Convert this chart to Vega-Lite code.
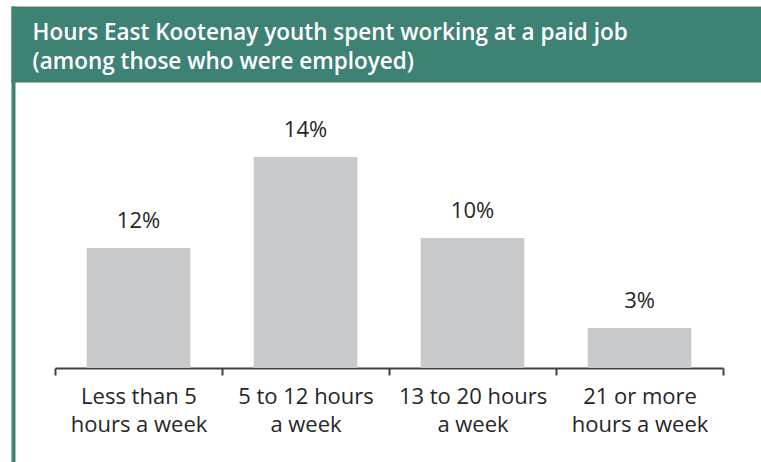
{
  "$schema": "https://vega.github.io/schema/vega-lite/v6.json",
  "padding": {"left": 11, "top": 6, "right": 0, "bottom": 0},
  "background": "white",
  "width": 750,
  "height": 456,
  "config": {"view": {"stroke": null, "fill": "white"}, "font": "Open Sans"},
  "data": {
    "values": [
      {"hours": "Less than 5 hours a week", "percent": 12, "bar_height": 7.96, "label": "12%"},
      {"hours": "5 to 12 hours a week", "percent": 14, "bar_height": 14, "label": "14%"},
      {"hours": "13 to 20 hours a week", "percent": 10, "bar_height": 8.63, "label": "10%"},
      {"hours": "21 or more hours a week", "percent": 3, "bar_height": 2.65, "label": "3%"}
    ]
  },
  "layer": [
    {
      "encoding": {
        "x": {
          "field": "hours",
          "type": "nominal",
          "sort": null,
          "scale": {"paddingInner": 0, "paddingOuter": 0, "range": [44, 712]},
          "axis": {
            "orient": "bottom",
            "offset": -94,
            "title": null,
            "domainColor": "#404040",
            "domainWidth": 2,
            "tickBand": "extent",
            "tickColor": "#404040",
            "tickWidth": 2,
            "tickSize": 7,
            "labelAngle": 0,
            "labelFont": "Open Sans",
            "labelFontSize": 22,
            "labelColor": "#262626",
            "labelPadding": 11,
            "labelLineHeight": 28,
            "labelLimit": 0,
            "labelExpr": "indexof(datum.label, ' to ') > 0 ? split(replace(datum.label, ' a week', '|a week'), '|') : split(replace(datum.label, ' hours', '|hours'), '|')"
          }
        },
        "y": {
          "field": "bar_height",
          "type": "quantitative",
          "scale": {"domain": [-6.24, 24.02], "nice": false},
          "axis": {
            "orient": "left",
            "offset": -2,
            "title": null,
            "domain": true,
            "domainColor": "#3e8274",
            "domainWidth": 4,
            "ticks": false,
            "labels": false,
            "grid": false
          }
        }
      },
      "layer": [
        {"mark": {"type": "bar", "width": {"band": 0.62}, "color": "#c8c9cb"}},
        {
          "mark": {"type": "text", "dy": -20, "baseline": "alphabetic", "font": "Open Sans", "fontSize": 22, "color": "#262626"},
          "encoding": {"text": {"field": "label"}}
        }
      ]
    },
    {
      "mark": {"type": "point", "opacity": 0},
      "encoding": {
        "x": {
          "field": "hours",
          "type": "nominal",
          "sort": null,
          "axis": {
            "orient": "top",
            "offset": -38,
            "domain": true,
            "domainColor": "#3e8274",
            "domainWidth": 76,
            "ticks": false,
            "labels": false,
            "grid": false,
            "title": ["Hours East Kootenay youth spent working at a paid job", "(among those who were employed)"],
            "titleX": 21,
            "titleY": -5,
            "titleAlign": "left",
            "titleAnchor": "start",
            "titleBaseline": "alphabetic",
            "titleColor": "white",
            "titleFont": "Open Sans",
            "titleFontSize": 22.5,
            "titleFontWeight": 600,
            "titleLineHeight": 29,
            "titleLimit": 0
          }
        }
      }
    }
  ],
  "resolve": {"scale": {"x": "independent"}, "axis": {"x": "independent"}}
}
